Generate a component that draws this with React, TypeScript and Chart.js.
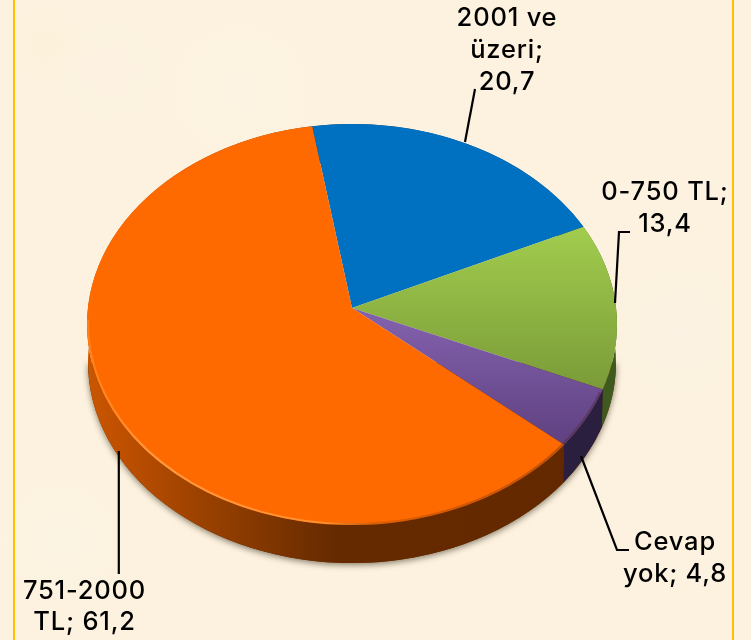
import React, { useEffect, useRef } from "react";
import { Chart, registerables } from "chart.js";

Chart.register(...registerables);

const categories = ["2001 ve üzeri", "0-750 TL", "Cevap yok", "751-2000 TL"];
const values = [20.7, 13.4, 4.8, 61.2];
const labelLines = [
  ["2001 ve", "üzeri;", "20,7"],
  ["0-750 TL;", "13,4"],
  ["Cevap", "yok; 4,8"],
  ["751-2000", "TL; 61,2"],
];

const W = 751;
const H = 640;
const APEX = { x: 352, y: 308 };
const SQUASH = 0.755;
const RIM = { x: 352, y: 324.5, rx: 265, ry: 200.5 };
const DEPTH = 38;
const ROTATION = -9.4;

const labelPos = [
  { x: 507, y: [18, 50, 82] },
  { x: 665, y: [192, 224] },
  { x: 675, y: [542, 574] },
  { x: 84.5, y: [591, 622] },
];
const leaders = [
  [[465, 142], [475, 89]],
  [[615, 303], [619, 232], [630, 232]],
  [[581, 456], [617, 550], [629, 550]],
  [[118.8, 451], [118.8, 574]],
];

function rimAngle(a: number) {
  const dx = Math.cos(a);
  const dy = Math.sin(a) * SQUASH;
  const du = dx / RIM.rx;
  const dv = dy / RIM.ry;
  const v = (APEX.y - RIM.y) / RIM.ry;
  const A = du * du + dv * dv;
  const B = v * dv;
  const s = (-B + Math.sqrt(B * B - A * (v * v - 1))) / A;
  const px = APEX.x + dx * s;
  const py = APEX.y + dy * s;
  return Math.atan2((py - RIM.y) / RIM.ry, (px - RIM.x) / RIM.rx);
}

function sideFill(ctx: CanvasRenderingContext2D, i: number) {
  const g = ctx.createLinearGradient(87, 0, 617, 0);
  if (i === 3) {
    g.addColorStop(0, "#C95600");
    g.addColorStop(0.06, "#C05000");
    g.addColorStop(0.21, "#9C4200");
    g.addColorStop(0.37, "#7A3300");
    g.addColorStop(0.47, "#662A00");
    g.addColorStop(1, "#642800");
  } else if (i === 2) {
    g.addColorStop(0, "#2A1F3E");
    g.addColorStop(1, "#2A1F3E");
  } else if (i === 1) {
    g.addColorStop(0, "#3F5A1E");
    g.addColorStop(1, "#3F5A1E");
  } else {
    g.addColorStop(0, "#003A66");
    g.addColorStop(1, "#003A66");
  }
  return g;
}

const piePlugin = {
  id: "tilt",
  beforeDatasetsDraw(chart: any) {
    const ctx = chart.ctx as CanvasRenderingContext2D;
    const arcs = chart.getDatasetMeta(0).data;
    ctx.save();
    ctx.shadowColor = "rgba(40,30,10,0.55)";
    ctx.shadowBlur = 6;
    ctx.shadowOffsetY = 2;
    ctx.fillStyle = "#5E2800";
    ctx.beginPath();
    ctx.ellipse(RIM.x, RIM.y + DEPTH, RIM.rx - 1, RIM.ry, 0, 0, Math.PI);
    ctx.fill();
    ctx.restore();

    arcs.forEach((arc: any, i: number) => {
      const t0 = rimAngle(arc.startAngle);
      let t1 = rimAngle(arc.endAngle);
      if (t1 < t0) t1 += Math.PI * 2;
      ctx.save();
      ctx.fillStyle = sideFill(ctx, i);
      ctx.beginPath();
      ctx.ellipse(RIM.x, RIM.y, RIM.rx, RIM.ry, 0, t0, t1);
      ctx.ellipse(RIM.x, RIM.y + DEPTH, RIM.rx - 1, RIM.ry, 0, t1, t0, true);
      ctx.closePath();
      ctx.fill();
      ctx.restore();
    });

    ctx.save();
    ctx.beginPath();
    ctx.ellipse(RIM.x, RIM.y, RIM.rx, RIM.ry, 0, 0, Math.PI * 2);
    ctx.clip();
    const cx = chart.chartArea.left + chart.chartArea.width / 2;
    const cy = chart.chartArea.top + chart.chartArea.height / 2;
    ctx.translate(APEX.x, APEX.y);
    ctx.scale(1, SQUASH);
    ctx.translate(-cx, -cy);
  },
  afterDatasetsDraw(chart: any) {
    const ctx = chart.ctx as CanvasRenderingContext2D;
    ctx.restore();
    ctx.save();
    const edge = ctx.createLinearGradient(87, 0, 617, 0);
    edge.addColorStop(0, "rgba(255,150,50,0.5)");
    edge.addColorStop(0.12, "rgba(255,165,80,0.8)");
    edge.addColorStop(0.45, "rgba(255,160,70,0.7)");
    edge.addColorStop(0.58, "rgba(120,50,0,0.25)");
    edge.addColorStop(1, "rgba(60,30,40,0.4)");
    ctx.strokeStyle = edge;
    ctx.lineWidth = 2;
    ctx.beginPath();
    ctx.ellipse(RIM.x, RIM.y - 1, RIM.rx - 1, RIM.ry, 0, 0.35, Math.PI + 0.02);
    ctx.stroke();
    ctx.restore();
  },
  afterDraw(chart: any) {
    const ctx = chart.ctx as CanvasRenderingContext2D;
    ctx.save();
    ctx.strokeStyle = "#FFC000";
    ctx.lineWidth = 2;
    [14, 733].forEach((x) => {
      ctx.beginPath();
      ctx.moveTo(x, 0);
      ctx.lineTo(x, H);
      ctx.stroke();
    });
    ctx.strokeStyle = "#000000";
    ctx.lineWidth = 2.2;
    leaders.forEach((pts) => {
      ctx.beginPath();
      pts.forEach(([x, y], k) => (k ? ctx.lineTo(x, y) : ctx.moveTo(x, y)));
      ctx.stroke();
    });
    ctx.fillStyle = "#000000";
    ctx.font = '500 25.5px Inter, "DejaVu Sans"';
    (ctx as any).letterSpacing = "0.8px";
    ctx.textAlign = "center";
    ctx.textBaseline = "middle";
    labelLines.forEach((lines, i) => {
      lines.forEach((line, k) => {
        ctx.fillText(line, labelPos[i].x, labelPos[i].y[k]);
      });
    });
    ctx.restore();
  },
};

export default function App() {
  const ref = useRef<HTMLCanvasElement>(null);
  useEffect(() => {
    const canvas = ref.current!;
    const ctx = canvas.getContext("2d")!;
    const toLocal = (y: number) => (y - APEX.y) / SQUASH + H / 2;
    const green = ctx.createLinearGradient(0, toLocal(226), 0, toLocal(390));
    green.addColorStop(0, "#A2CD4E");
    green.addColorStop(1, "#7A9B38");
    const purple = ctx.createLinearGradient(0, toLocal(320), 0, toLocal(445));
    purple.addColorStop(0, "#8160AB");
    purple.addColorStop(1, "#5F4080");
    const chart = new Chart(canvas, {
      type: "pie",
      data: {
        labels: categories,
        datasets: [
          {
            data: values,
            backgroundColor: ["#0070C0", green, purple, "#FF6A00"],
            borderWidth: 0,
            clip: false,
          } as any,
        ],
      },
      options: {
        responsive: false,
        animation: false,
        rotation: ROTATION,
        radius: 330,
        layout: { padding: 0 },
        plugins: { legend: { display: false }, tooltip: { enabled: false } },
      } as any,
      plugins: [piePlugin],
    });
    return () => chart.destroy();
  }, []);
  return (
    <div
      style={{
        position: "absolute",
        left: 0,
        top: 0,
        width: W,
        height: H,
        overflow: "hidden",
        backgroundColor: "#FCF2DF",
        backgroundImage:
          "radial-gradient(circle at 45px 45px, #FCF1DA 0, transparent 40px), radial-gradient(circle at 110px 70px, #FDF2E2 0, transparent 60px), radial-gradient(circle at 240px 90px, #FDF3E2 0, transparent 70px), radial-gradient(circle at 680px 330px, #FBF2E3 0, transparent 70px), radial-gradient(circle at 60px 540px, #FBF3E3 0, transparent 60px)",
      }}
    >
      <canvas ref={ref} width={W} height={H} style={{ display: "block" }} />
    </div>
  );
}
